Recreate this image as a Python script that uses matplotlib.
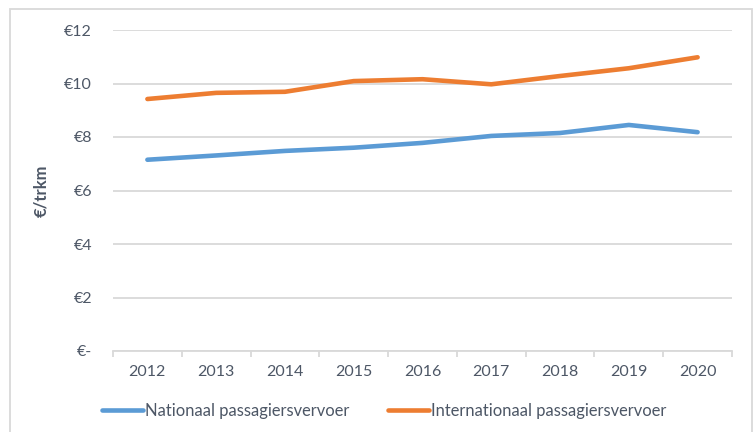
import matplotlib.pyplot as plt
from matplotlib.patches import Rectangle

years = ["2012", "2013", "2014", "2015", "2016", "2017", "2018", "2019", "2020"]
nationaal = [7.15, 7.31, 7.48, 7.60, 7.78, 8.04, 8.15, 8.45, 8.18]
internationaal = [9.42, 9.65, 9.69, 10.09, 10.16, 9.97, 10.28, 10.57, 10.98]
yticks = [0, 2, 4, 6, 8, 10, 12]
ytick_labels = ["€-", "€2", "€4", "€6", "€8", "€10", "€12"]

blue = "#5B9BD5"
orange = "#ED7D31"
grid = "#D9D9D9"
text = "#4D5766"

plt.rcParams["font.family"] = ["Lato", "DejaVu Sans"]

fig = plt.figure(figsize=(7.55, 4.32), dpi=100)
ax = fig.add_axes([113 / 755, 1 - 351 / 432, (732 - 113) / 755, (351 - 30) / 432])

x = range(len(years))
ax.plot(x, nationaal, color=blue, lw=3.3, solid_capstyle="round",
        label="Nationaal passagiersvervoer", zorder=3)
ax.plot(x, internationaal, color=orange, lw=3.3, solid_capstyle="round",
        label="Internationaal passagiersvervoer", zorder=3)

ax.set_xlim(-0.5, len(years) - 0.5)
ax.set_ylim(0, 12)
ax.set_yticks(yticks)
ax.set_yticklabels(ytick_labels)
ax.set_xticks(list(x))
ax.set_xticklabels(years)
ax.set_xticks([i - 0.5 for i in range(len(years) + 1)], minor=True)

ax.grid(axis="y", color=grid, lw=1.3, zorder=0)
ax.tick_params(axis="y", length=0, pad=15, labelsize=11.5, labelcolor=text)
ax.tick_params(axis="x", which="major", length=0, pad=10, labelsize=11.5, labelcolor=text)
ax.tick_params(axis="x", which="minor", length=4, width=1.3, color=grid)
for side in ["top", "right", "left"]:
    ax.spines[side].set_visible(False)
ax.spines["bottom"].set_color(grid)
ax.spines["bottom"].set_linewidth(1.3)

ax.set_ylabel("€/trkm", fontsize=12, fontweight="bold", color=text, labelpad=11)

fig.legend(loc="center", bbox_to_anchor=(384 / 755, 1 - 411 / 432), ncol=2,
           frameon=False, fontsize=11.9, labelcolor=text, handlelength=2.5,
           handletextpad=0.12, columnspacing=2.3)

# chart area border
fig.patches.append(Rectangle((10 / 755, -0.1), 742 / 755, 1.1 - 9 / 432,
                             transform=fig.transFigure, fill=False,
                             edgecolor=grid, lw=1.3))

fig.savefig("out.png", dpi=100)
